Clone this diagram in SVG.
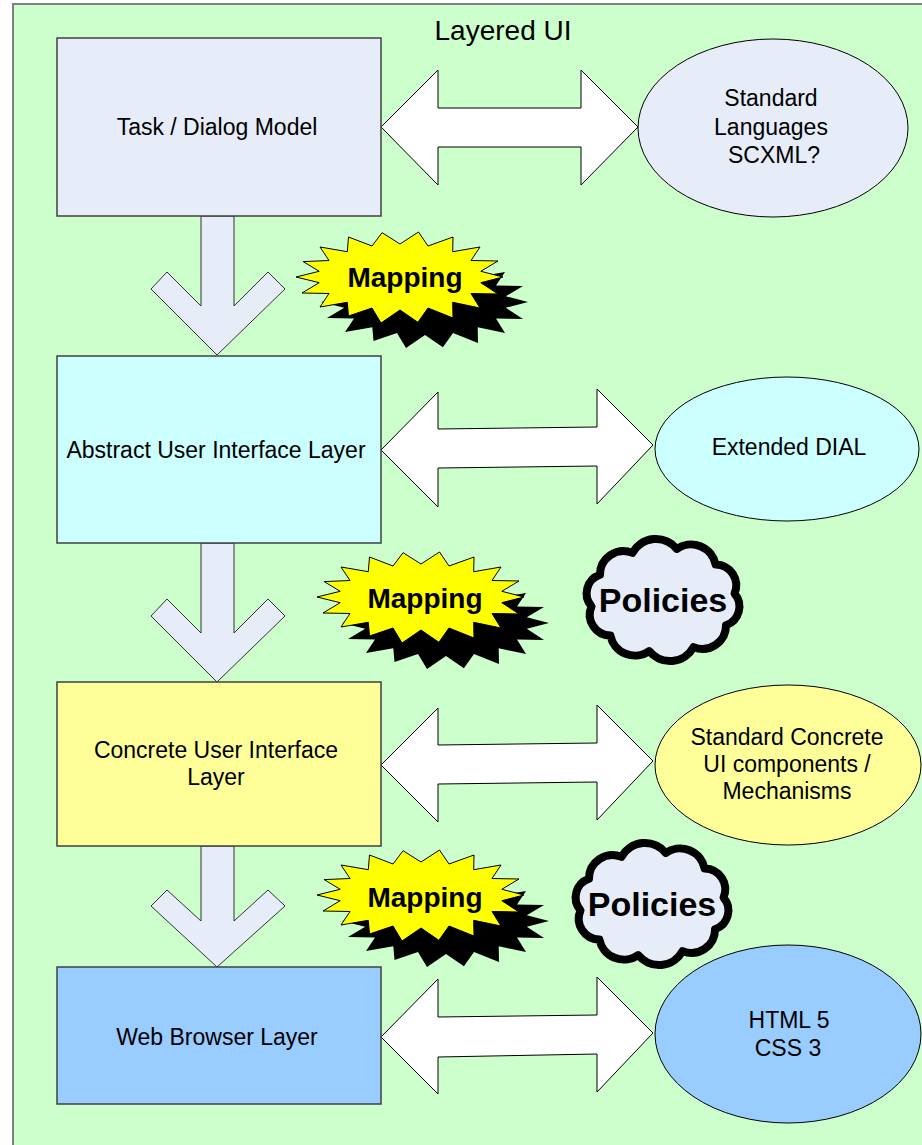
<svg xmlns="http://www.w3.org/2000/svg" xmlns:xlink="http://www.w3.org/1999/xlink" width="922" height="1145" viewBox="0 0 922 1145">
<style>
text{font-family:"Liberation Sans",Arial,sans-serif;fill:#000;text-anchor:middle}
.lbl{font-size:23px}
.map{font-size:28px;font-weight:bold}
.pol{font-size:34px;font-weight:bold}
.box{stroke:#404040;stroke-width:1.5}
.ell{stroke:#000;stroke-width:1}
.dbl{fill:#fff;stroke:#000;stroke-width:1}
.down{fill:#e6ecf8;stroke:#333;stroke-width:1}
.cloud{fill:#e6ecf8;stroke:#000;stroke-width:8;stroke-linejoin:round}
</style>
<defs>
<polygon id="star" points="103,0 80.8,5.7 98,17 71,16.5 80,31 52.7,25.3 53,41 28,31 17.9,45.3 0,33 -19,46 -28,31 -51.5,39 -52.7,25.3 -80,30 -71,16.5 -98,16 -80.8,5.7 -104,0 -80.8,-5.7 -96.8,-15.4 -71,-16.5 -80,-30 -52.7,-25.3 -51.5,-40 -28,-31 -17.9,-44.3 0,-33 18.5,-45 28,-31 53,-40 52.7,-25.3 80,-30 71,-16.5 98,-16 80.8,-5.7"/>
<path id="cloud" d="M-30.5,-47.1 A26.7,26.7 0 0 1 13.8,-51.1 A25,25 0 0 1 52.6,-35.5 A20.9,20.9 0 0 1 71.5,-6.3 A19.6,19.6 0 0 1 63,25.2 A23.5,23.5 0 0 1 30.5,47.1 A26.7,26.7 0 0 1 -13.8,51.1 A25,25 0 0 1 -52.6,35.5 A20.9,20.9 0 0 1 -71.5,6.3 A19.6,19.6 0 0 1 -63,-25.2 A23.5,23.5 0 0 1 -30.5,-47.1 Z"/>
</defs>

<rect id="background" x="13" y="4" width="920" height="1150" fill="#ccffcc" stroke="#808080" stroke-width="2"/>
<text x="503" y="40" style="font-size:28px">Layered UI</text>

<g id="connectors">
  <polygon class="dbl" points="381,127 438,70 438,108 581,108 581,70 638,127 581,185 581,147 438,147 438,185"/>
  <polygon class="dbl" points="381,450 438,392 438,429 597,427 597,389 653,445 597,504 597,466 438,468 438,507"/>
  <polygon class="dbl" points="381,765 438,708 438,745 597,743 597,705 653,761 597,820 597,782 438,784 438,822"/>
  <polygon class="dbl" points="381,1037 438,979 438,1017 597,1015 597,977 653,1033 597,1092 597,1054 438,1057 438,1094"/>
  <polygon class="down" points="201,216 234,216 234,306 268,272 285,289 217,355 151,289 167,272 201,306"/>
  <polygon class="down" points="201,543 234,543 234,633 268,599 285,616 217,682 151,616 167,599 201,633"/>
  <polygon class="down" points="201,846 234,846 234,921 268,890 285,906 217,967 151,906 167,890 201,921"/>
</g>

<g id="task-dialog-model">
  <rect class="box" x="57" y="38" width="324" height="178" fill="#e6ecf8"/>
  <text class="lbl" x="217" y="135">Task / Dialog Model</text>
</g>
<g id="abstract-ui-layer">
  <rect class="box" x="57" y="356" width="324" height="187" fill="#ccffff"/>
  <text class="lbl" x="216" y="458">Abstract User Interface Layer</text>
</g>
<g id="concrete-ui-layer">
  <rect class="box" x="57" y="682" width="324" height="164" fill="#ffff99"/>
  <text class="lbl" x="216" y="758">Concrete User Interface</text>
  <text class="lbl" x="216" y="785">Layer</text>
</g>
<g id="web-browser-layer">
  <rect class="box" x="57" y="967" width="324" height="137" fill="#99ccff"/>
  <text class="lbl" x="217" y="1045">Web Browser Layer</text>
</g>

<g id="standard-languages">
  <ellipse class="ell" cx="773" cy="128" rx="135" ry="89" fill="#e6ecf8"/>
  <text class="lbl" x="771" y="106">Standard</text>
  <text class="lbl" x="771" y="135">Languages</text>
  <text class="lbl" x="774" y="163">SCXML?</text>
</g>
<g id="extended-dial">
  <ellipse class="ell" cx="787" cy="449" rx="132" ry="72" fill="#ccffff"/>
  <text class="lbl" x="789" y="455">Extended DIAL</text>
</g>
<g id="standard-concrete">
  <ellipse class="ell" cx="788" cy="765" rx="133" ry="80" fill="#ffff99"/>
  <text class="lbl" x="787" y="745">Standard Concrete</text>
  <text class="lbl" x="787" y="772">UI components /</text>
  <text class="lbl" x="787" y="799">Mechanisms</text>
</g>
<g id="html-css">
  <ellipse class="ell" cx="788" cy="1034" rx="133" ry="89" fill="#99ccff"/>
  <text class="lbl" x="789" y="1028">HTML 5</text>
  <text class="lbl" x="788" y="1056">CSS 3</text>
</g>

<g id="mapping-1">
  <use xlink:href="#star" href="#star" transform="translate(425,302)" fill="#000"/>
  <use xlink:href="#star" href="#star" transform="translate(400,277)" fill="#ffff00" stroke="#000" stroke-width="1"/>
  <text class="map" x="405" y="287">Mapping</text>
</g>
<g id="mapping-2">
  <use xlink:href="#star" href="#star" transform="translate(446,623)" fill="#000"/>
  <use xlink:href="#star" href="#star" transform="translate(421,597)" fill="#ffff00" stroke="#000" stroke-width="1"/>
  <text class="map" x="425" y="608">Mapping</text>
</g>
<g id="mapping-3">
  <use xlink:href="#star" href="#star" transform="translate(446,921)" fill="#000"/>
  <use xlink:href="#star" href="#star" transform="translate(421,895)" fill="#ffff00" stroke="#000" stroke-width="1"/>
  <text class="map" x="425" y="907">Mapping</text>
</g>

<g id="policies-1">
  <use xlink:href="#cloud" href="#cloud" class="cloud" transform="translate(663,600)"/>
  <text class="pol" x="663" y="612">Policies</text>
</g>
<g id="policies-2">
  <use xlink:href="#cloud" href="#cloud" class="cloud" transform="translate(652,904)"/>
  <text class="pol" x="652" y="916">Policies</text>
</g>
</svg>
